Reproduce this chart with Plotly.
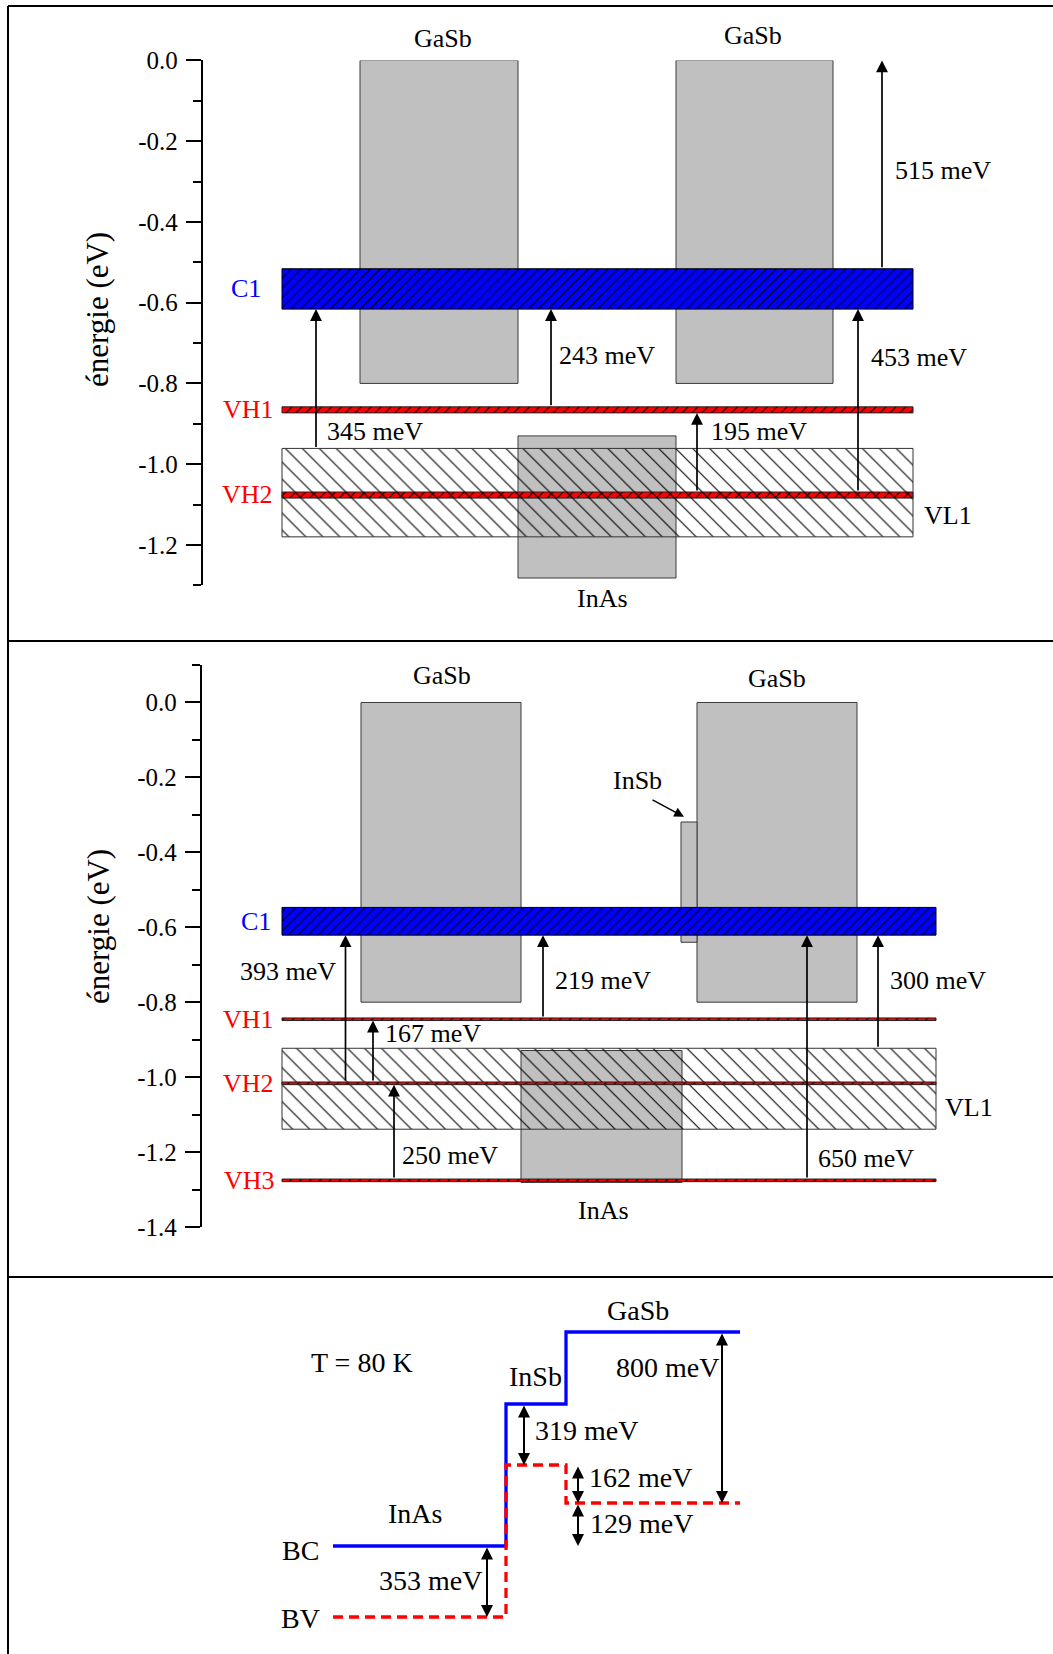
import plotly.graph_objects as go

W, H = 1053, 1654
FONT = "Liberation Serif"

# ---------------- Panel 1 (énergie, eV) ----------------
p1_band_x = [282, 913]                 # lateral extent of confined levels
p1_gasb_x = [[360, 518], [676, 833]]   # GaSb barriers
p1_inas_x = [518, 676]                 # InAs well
p1_gasb_e = [-0.80, 0.0]
p1_inas_e = [-1.282, -0.930]
p1_lvl_names = ["C1", "VH1", "VL1", "VH2"]
p1_lvl_lo = [-0.616, -0.873, -1.180, -1.084]
p1_lvl_hi = [-0.516, -0.858, -0.961, -1.069]
p1_tr_x = [316, 551, 697, 858, 882]
p1_tr_from = [-0.961, -0.858, -1.069, -1.069, -0.516]
p1_tr_to = [-0.616, -0.616, -0.873, -0.616, 0.0]
p1_tr_lbl = ["345 meV", "243 meV", "195 meV", "453 meV", "515 meV"]
p1_ticks = [0.0, -0.2, -0.4, -0.6, -0.8, -1.0, -1.2]
p1_ticktext = ["0.0", "-0.2", "-0.4", "-0.6", "-0.8", "-1.0", "-1.2"]
p1_minor = [-0.1, -0.3, -0.5, -0.7, -0.9, -1.1, -1.3]

# ---------------- Panel 2 (énergie, eV) ----------------
p2_band_x = [282, 936]
p2_gasb_x = [[361, 521], [697, 857]]
p2_inas_x = [521, 682]
p2_insb_x = [681, 697]
p2_gasb_e = [-0.80, 0.0]
p2_inas_e = [-1.281, -0.929]
p2_insb_e = [-0.640, -0.319]
p2_lvl_names = ["C1", "VH1", "VL1", "VH2", "VH3"]
p2_lvl_lo = [-0.621, -0.849, -1.139, -1.020, -1.279]
p2_lvl_hi = [-0.547, -0.842, -0.923, -1.013, -1.272]
p2_tr_x = [345.5, 373, 394, 543, 807, 878]
p2_tr_from = [-1.013, -1.013, -1.272, -0.842, -1.272, -0.923]
p2_tr_to = [-0.621, -0.849, -1.020, -0.621, -0.621, -0.621]
p2_tr_lbl = ["393 meV", "167 meV", "250 meV", "219 meV", "650 meV", "300 meV"]
p2_ticks = [0.0, -0.2, -0.4, -0.6, -0.8, -1.0, -1.2, -1.4]
p2_ticktext = ["0.0", "-0.2", "-0.4", "-0.6", "-0.8", "-1.0", "-1.2", "-1.4"]
p2_minor = [0.1, -0.1, -0.3, -0.5, -0.7, -0.9, -1.1, -1.3]

# ---------------- Panel 3 (schematic band alignment, T = 80 K) ----------------
p3_mat = ["InAs", "InSb", "GaSb"]
p3_edges = [333, 506, 566, 740]
p3_bc = [0, 710, 1070]       # schematic levels
p3_bv = [-355, 405, 215]
p3_ar_x = [487, 524, 578, 578, 722]
p3_ar_a = [0, 710, 405, 215, 1070]
p3_ar_b = [-355, 405, 215, 0, 215]
p3_ar_lbl = ["353 meV", "319 meV", "162 meV", "129 meV", "800 meV"]

AX1_X, AX2_X = 202.8, 201.8


def py(p):
    return 1 - p / H


def px(p):
    return p / W


fig = go.Figure()


def rect(x0, x1, y0, y1, xa, ya, fill, line, lw=1.0, pattern=None):
    tr = go.Scatter(
        x=[x0, x1, x1, x0, x0], y=[y0, y0, y1, y1, y0],
        mode="lines", fill="toself", fillcolor=fill,
        line=dict(color=line, width=lw), xaxis=xa, yaxis=ya,
        hoverinfo="skip", showlegend=False,
    )
    if pattern is not None:
        tr.fillpattern = pattern
    fig.add_trace(tr)


GRAY = "#C0C0C0"
GRAYLINE = "#3a3a3a"
BLUE = "#0000FF"
RED = "#FF0000"

c1_pat = dict(shape="/", fgcolor="black", bgcolor=BLUE, size=7, solidity=0.15, fillmode="replace")
vh_pat = dict(shape="/", fgcolor="black", bgcolor=RED, size=7, solidity=0.15, fillmode="replace")
vl_pat = dict(shape="\\", fgcolor="black", bgcolor="rgba(0,0,0,0)", size=12, solidity=0.09, fillmode="replace")


def style_for(nm):
    if nm == "C1":
        return c1_pat, BLUE, "black"
    if nm == "VL1":
        return vl_pat, "rgba(0,0,0,0)", "#333333"
    return vh_pat, RED, "#222222"


# ---- Panel 1 drawing ----
for gx in p1_gasb_x:
    rect(gx[0], gx[1], p1_gasb_e[0], p1_gasb_e[1], "x", "y", GRAY, GRAYLINE)
rect(p1_inas_x[0], p1_inas_x[1], p1_inas_e[0], p1_inas_e[1], "x", "y", GRAY, GRAYLINE)
for nm in ["VH2", "VL1", "VH1", "C1"]:
    i = p1_lvl_names.index(nm)
    pat, col, lc = style_for(nm)
    rect(p1_band_x[0], p1_band_x[1], p1_lvl_lo[i], p1_lvl_hi[i], "x", "y", col, lc, 1.0, pat)

# ---- Panel 2 drawing ----
for gx in p2_gasb_x:
    rect(gx[0], gx[1], p2_gasb_e[0], p2_gasb_e[1], "x2", "y2", GRAY, GRAYLINE)
rect(p2_insb_x[0], p2_insb_x[1], p2_insb_e[0], p2_insb_e[1], "x2", "y2", GRAY, GRAYLINE)
rect(p2_inas_x[0], p2_inas_x[1], p2_inas_e[0], p2_inas_e[1], "x2", "y2", GRAY, GRAYLINE)
for nm in ["VL1", "VH2", "VH1", "VH3", "C1"]:
    i = p2_lvl_names.index(nm)
    pat, col, lc = style_for(nm)
    rect(p2_band_x[0], p2_band_x[1], p2_lvl_lo[i], p2_lvl_hi[i], "x2", "y2", col, lc, 1.0, pat)

# ---- Panel 3 drawing ----
fig.add_trace(go.Scatter(
    x=p3_edges, y=p3_bc + [p3_bc[-1]], mode="lines", line_shape="hv",
    line=dict(color=BLUE, width=3.3), xaxis="x3", yaxis="y3",
    hoverinfo="skip", showlegend=False))
fig.add_trace(go.Scatter(
    x=p3_edges, y=p3_bv + [p3_bv[-1]], mode="lines", line_shape="hv",
    line=dict(color=RED, width=3.3, dash="10px,6px"), xaxis="x3", yaxis="y3",
    hoverinfo="skip", showlegend=False))

ann = []


def txt(x, y, s, xr, yr, size=26, color="black", xanchor="center", yanchor="middle", angle=0):
    ann.append(dict(x=x, y=y, xref=xr, yref=yr, text=s, showarrow=False,
                    xanchor=xanchor, yanchor=yanchor, textangle=angle,
                    font=dict(family=FONT, size=size, color=color)))


def arrow(x, y0, y1, xr, yr, both=False, w=1.7, s=1.4):
    d = dict(x=x, y=y1, ax=x, ay=y0, xref=xr, yref=yr, axref=xr, ayref=yr,
             text="", showarrow=True, arrowhead=2, arrowsize=s, arrowwidth=w,
             arrowcolor="black", standoff=0, startstandoff=0)
    if both:
        d.update(arrowside="end+start", startarrowhead=2, startarrowsize=s)
    ann.append(d)


# Panel 1 arrows + labels
for i in range(len(p1_tr_x)):
    arrow(p1_tr_x[i], p1_tr_from[i], p1_tr_to[i], "x", "y")
p1_lbl_pos = [(325, -0.918, "left"), (557, -0.730, "left"), (709, -0.918, "left"),
              (869, -0.737, "left"), (893, -0.273, "left")]
for (lx, ly, anc), s in zip(p1_lbl_pos, p1_tr_lbl):
    txt(lx, ly, s, "x", "y", xanchor=anc)
txt(px(443), py(38.8), "GaSb", "paper", "paper")
txt(px(753), py(36), "GaSb", "paper", "paper")
txt(px(602), py(598), "InAs", "paper", "paper")
txt(948, -1.126, "VL1", "x", "y")
txt(263, -0.566, "C1", "x", "y", color=BLUE, xanchor="right")
txt(276, -0.865, "VH1", "x", "y", color=RED, xanchor="right")
txt(275, -1.076, "VH2", "x", "y", color=RED, xanchor="right")

# Panel 2 arrows + labels
for i in range(len(p2_tr_x)):
    arrow(p2_tr_x[i], p2_tr_from[i], p2_tr_to[i], "x2", "y2")
p2_lbl_pos = [(338, -0.719, "right"), (383, -0.884, "left"), (400, -1.208, "left"),
              (553, -0.743, "left"), (816, -1.218, "left"), (888, -0.743, "left")]
for (lx, ly, anc), s in zip(p2_lbl_pos, p2_tr_lbl):
    txt(lx, ly, s, "x2", "y2", xanchor=anc)
txt(442, 0.072, "GaSb", "x2", "y2")
txt(777, 0.064, "GaSb", "x2", "y2")
txt(px(603), py(1210), "InAs", "paper", "paper")
txt(637, -0.209, "InSb", "x2", "y2")
ann.append(dict(x=684, y=-0.305, ax=651, ay=-0.258, xref="x2", yref="y2", axref="x2", ayref="y2",
                text="", showarrow=True, arrowhead=2, arrowsize=1.3, arrowwidth=1.5,
                arrowcolor="black", standoff=0, startstandoff=0))
txt(969, -1.082, "VL1", "x2", "y2")
txt(273, -0.584, "C1", "x2", "y2", color=BLUE, xanchor="right")
txt(276, -0.845, "VH1", "x2", "y2", color=RED, xanchor="right")
txt(276, -1.016, "VH2", "x2", "y2", color=RED, xanchor="right")
txt(277, -1.275, "VH3", "x2", "y2", color=RED, xanchor="right")

# y titles
txt(px(98), py(310), "énergie (eV)", "paper", "paper", 31, angle=-90)
txt(px(98), py(927), "énergie (eV)", "paper", "paper", 31, angle=-90)

# Panel 3 arrows + labels
for i in range(len(p3_ar_x)):
    arrow(p3_ar_x[i], p3_ar_a[i], p3_ar_b[i], "x3", "y3", both=True, w=2, s=1.2)
p3_lbl_pos = [(430, -170, "center"), (533, 580, "left"), (587, 345, "left"),
              (588, 115, "left"), (667, 895, "center")]
for (lx, ly, anc), s in zip(p3_lbl_pos, p3_ar_lbl):
    txt(lx, ly, s, "x3", "y3", 28, xanchor=anc)
txt(362, 920, "T = 80 K", "x3", "y3", 28)
txt(415, 165, p3_mat[0], "x3", "y3", 28)
txt(535, 850, p3_mat[1], "x3", "y3", 28)
txt(638, 1180, p3_mat[2], "x3", "y3", 28)
txt(300, -20, "BC", "x3", "y3", 28)
txt(300, -360, "BV", "x3", "y3", 28)

# frame lines
shapes = []
for (x0, y0, x1, y1) in [(8, 6, W, 6), (8, 6, 8, H), (8, 641, W, 641), (8, 1277, W, 1277)]:
    shapes.append(dict(type="line", xref="paper", yref="paper",
                       x0=px(x0), y0=py(y0), x1=px(x1), y1=py(y1),
                       line=dict(color="black", width=2)))

yax_common = dict(showline=True, linecolor="black", linewidth=2, ticks="outside",
                  ticklen=15, tickwidth=2, tickcolor="black", showgrid=False,
                  zeroline=False, tickfont=dict(family=FONT, size=25, color="black"),
                  tickmode="array", ticklabelstandoff=3, automargin=False)
hid = dict(visible=False, automargin=False, showgrid=False, zeroline=False)

fig.update_layout(
    template="none",
    width=W, height=H, margin=dict(l=0, r=0, t=0, b=0, pad=0), autosize=False,
    paper_bgcolor="white", plot_bgcolor="rgba(0,0,0,0)", showlegend=False,
    font=dict(family=FONT, color="black"),
    xaxis=dict(domain=[px(AX1_X), 1], range=[AX1_X, W], anchor="y", **hid),
    yaxis=dict(domain=[py(585.3), py(60.4)], range=[-1.3, 0], anchor="x",
               tickvals=p1_ticks, ticktext=p1_ticktext,
               minor=dict(ticks="outside", ticklen=8, tickwidth=2, tickcolor="black",
                          tickmode="array", tickvals=p1_minor),
               **yax_common),
    xaxis2=dict(domain=[px(AX2_X), 1], range=[AX2_X, W], anchor="y2", **hid),
    yaxis2=dict(domain=[py(1227), py(665)], range=[-1.4, 0.1], anchor="x2",
                tickvals=p2_ticks, ticktext=p2_ticktext,
                minor=dict(ticks="outside", ticklen=8, tickwidth=2, tickcolor="black",
                           tickmode="array", tickvals=p2_minor),
                **yax_common),
    xaxis3=dict(domain=[0, 1], range=[0, W], anchor="y3", **hid),
    yaxis3=dict(domain=[0, py(1290)], range=[-540, 1280], anchor="x3", **hid),
    annotations=ann, shapes=shapes,
)

post = ("document.documentElement.style.margin='0';document.documentElement.style.padding='0';"
        "document.documentElement.style.overflow='hidden';document.body.style.margin='0';"
        "document.body.style.padding='0';document.body.style.overflow='hidden';"
        "var gd=document.getElementById('{plot_id}');gd.style.position='fixed';"
        "gd.style.left='0px';gd.style.top='0px';")
fig.write_html("out.html", post_script=post, config={"displayModeBar": False})
